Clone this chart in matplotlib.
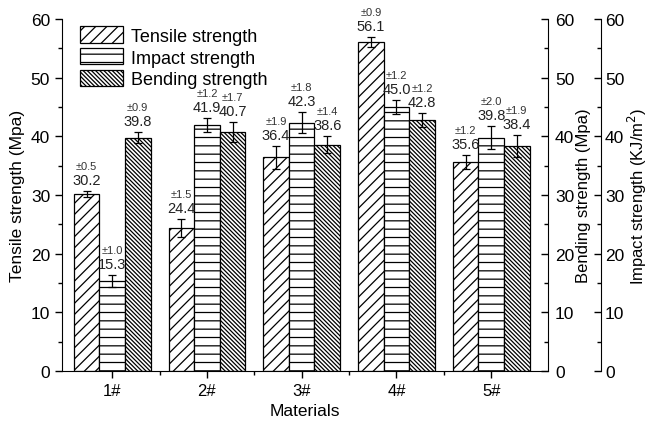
import numpy as np
import matplotlib.pyplot as plt
from matplotlib.ticker import MultipleLocator, FixedLocator

plt.rcParams['font.family'] = ['Liberation Sans', 'DejaVu Sans']
plt.rcParams['hatch.linewidth'] = 0.9

materials = ['1#', '2#', '3#', '4#', '5#']
tensile = [30.2, 24.4, 36.4, 56.1, 35.6]
tensile_err = [0.5, 1.5, 1.9, 0.9, 1.2]
impact = [15.3, 41.9, 42.3, 45.0, 39.8]
impact_err = [1.0, 1.2, 1.8, 1.2, 2.0]
bending = [39.8, 40.7, 38.6, 42.8, 38.4]
bending_err = [0.9, 1.7, 1.4, 1.2, 1.9]

fig = plt.figure(figsize=(6.51, 4.27), dpi=100)
ax = fig.add_axes([0.0952, 0.1288, 0.7466, 0.8242])

x = np.arange(len(materials))
w = 0.27
series = [
    (tensile, tensile_err, '///', 'Tensile strength', -w),
    (impact, impact_err, '--', 'Impact strength', 0),
    (bending, bending_err, '\\' * 8, 'Bending strength', w),
]

for vals, errs, hatch, name, off in series:
    ax.bar(x + off, vals, w, color='white', edgecolor='black', linewidth=0.9,
           hatch=hatch, label=name)
    ax.errorbar(x + off, vals, yerr=errs, fmt='none', ecolor='black',
                elinewidth=0.9, capsize=3, capthick=0.9)
    for xi, v, e in zip(x + off, vals, errs):
        ax.annotate(f'{v:.1f}', (xi, v + e), xytext=(0, 8),
                    textcoords='offset points', ha='center', va='center',
                    fontsize=10.5, color='#222222')
        ax.annotate(f'\u00b1{e:.1f}', (xi, v + e), xytext=(0, 18),
                    textcoords='offset points', ha='center', va='center',
                    fontsize=8, color='#333333')

ax.set_xlim(-0.53, 4.6)
ax.set_ylim(0, 60)
ax.set_xticks(x)
ax.set_xticklabels(materials, fontsize=12)
ax.xaxis.set_minor_locator(FixedLocator([0.5, 1.5, 2.5, 3.5]))
ax.yaxis.set_major_locator(MultipleLocator(10))
ax.yaxis.set_minor_locator(MultipleLocator(5))
ax.tick_params(axis='y', which='major', length=5, width=1, labelsize=12.5, direction='out')
ax.tick_params(axis='y', which='minor', length=3, width=1, direction='out')
ax.tick_params(axis='x', which='major', length=5, width=1, direction='out')
ax.tick_params(axis='x', which='minor', length=3, width=1, direction='out')
ax.spines['top'].set_visible(False)
ax.spines['right'].set_visible(False)
ax.set_xlabel('Materials', fontsize=12.5)
ax.set_ylabel('Tensile strength (Mpa)', fontsize=12.5)

ax.legend(loc='upper left', bbox_to_anchor=(0.015, 1.01), frameon=False,
          fontsize=13, handlelength=2.4, handleheight=1.0,
          labelspacing=0.2, handletextpad=0.4, borderaxespad=0.2)

# two extra right-hand axes with the same 0-60 scale
for offset, label, pad in [(0, 'Bending strength (Mpa)', 5),
                           (38, 'Impact strength (KJ/m$^2$)', 3)]:
    tw = ax.twinx()
    tw.set_ylim(0, 60)
    for s in ['left', 'top', 'bottom']:
        tw.spines[s].set_visible(False)
    tw.spines['right'].set_position(('outward', offset))
    tw.yaxis.set_major_locator(MultipleLocator(10))
    tw.yaxis.set_minor_locator(MultipleLocator(5))
    tw.tick_params(axis='y', which='major', length=5, width=1, labelsize=12.5,
                   direction='in', pad=pad)
    tw.tick_params(axis='y', which='minor', length=3, width=1, direction='in')
    tw.set_ylabel(label, fontsize=12, labelpad=1)

fig.savefig('out.png', dpi=100)
